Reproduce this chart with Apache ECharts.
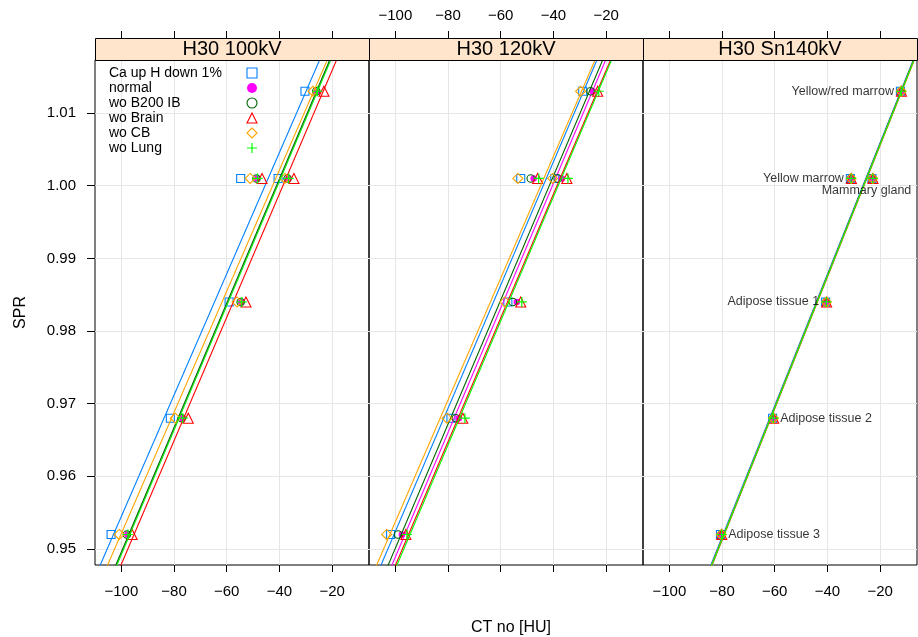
<!DOCTYPE html>
<html>
<head>
<meta charset="utf-8">
<script src="https://cdn.jsdelivr.net/npm/echarts@6/dist/echarts.min.js"></script>
<style>html,body{margin:0;padding:0;background:#fff}#c{width:918px;height:637px}</style>
</head>
<body>
<div id="c"></div>
<script>
// ---------------- data ----------------
const panelNames = ['H30 100kV', 'H30 120kV', 'H30 Sn140kV'];
const seriesNames = ['Ca up H down 1%', 'normal', 'wo B200 IB', 'wo Brain', 'wo CB', 'wo Lung'];
const tissues = ['Adipose tissue 3', 'Adipose tissue 2', 'Adipose tissue 1', 'Yellow marrow', 'Mammary gland', 'Yellow/red marrow'];
const spr = [0.952, 0.968, 0.984, 1.001, 1.001, 1.013];

// CT numbers [HU], one array per series, per panel (order of tissues above)
const ct100_caUp   = [-103.9, -81.4, -59.1, -54.7, -40.5, -30.3];
const ct100_normal = [-97.7, -76.9, -54.5, -48.5, -36.7, -25.8];
const ct100_b200   = [-97.9, -77.1, -54.7, -48.7, -36.9, -26.0];
const ct100_brain  = [-95.9, -74.6, -52.7, -46.6, -34.5, -23.1];
const ct100_cb     = [-100.8, -79.5, -56.1, -51.1, -37.9, -27.3];
const ct100_lung   = [-97.5, -76.7, -54.3, -48.3, -36.5, -25.6];

const ct120_caUp   = [-101.8, -78.9, -57.3, -52.4, -39.5, -28.9];
const ct120_normal = [-97.5, -75.9, -53.9, -47.5, -36.8, -25.1];
const ct120_b200   = [-99.0, -77.0, -55.4, -48.6, -38.4, -25.9];
const ct120_brain  = [-96.0, -74.4, -52.4, -46.0, -34.9, -23.2];
const ct120_cb     = [-103.3, -80.4, -58.4, -53.5, -40.3, -29.7];
const ct120_lung   = [-95.6, -73.6, -52.0, -45.6, -34.5, -22.8];

const ct140_caUp   = [-80.6, -60.8, -40.7, -31.3, -23.1, -12.3];
const ct140_normal = [-80.3, -60.6, -40.5, -31.1, -22.9, -12.1];
const ct140_b200   = [-80.3, -60.6, -40.5, -31.1, -22.9, -12.1];
const ct140_brain  = [-80.1, -60.4, -40.3, -30.9, -22.7, -11.9];
const ct140_cb     = [-80.3, -60.5, -40.4, -31.0, -22.8, -12.0];
const ct140_lung   = [-80.2, -60.5, -40.4, -31.0, -22.8, -12.0];

const xTicks = [-100, -80, -60, -40, -20];
const yTicks = [0.95, 0.96, 0.97, 0.98, 0.99, 1.00, 1.01];
const xRange = [-110, -6];
const yRange = [0.9478, 1.0173];
// label placement for tissue names in the Sn140kV panel
const labelPos = ['right', 'right', 'left', 'left', 'bottom', 'left'];

// ---------------- styling ----------------
const FONT = '"Liberation Sans", Arial, Helvetica, sans-serif';
const colors = ['#0080ff', '#ff00ff', '#006400', '#ff0000', '#ffa500', '#00ff00'];
const plusPath = 'path://M4.4,0h1.2v10h-1.2z M0,4.4h10v1.2h-10z';
const symbols = ['rect', 'circle', 'circle', 'triangle', 'diamond', plusPath];
const sizes = [8, 6.5, 7.5, 10, 10, 10];
const filled = [false, true, false, false, false, true];

const panelData = [
  [ct100_caUp, ct100_normal, ct100_b200, ct100_brain, ct100_cb, ct100_lung],
  [ct120_caUp, ct120_normal, ct120_b200, ct120_brain, ct120_cb, ct120_lung],
  [ct140_caUp, ct140_normal, ct140_b200, ct140_brain, ct140_cb, ct140_lung]
];

const PL = 95, PW = 274, PT = 60, PB = 565;
const minusFmt = v => (v < 0 ? '\u2212' + Math.abs(v) : String(v));

function fit(xs, ys) {
  const n = xs.length;
  const mx = xs.reduce((a, b) => a + b, 0) / n;
  const my = ys.reduce((a, b) => a + b, 0) / n;
  let sxy = 0, sxx = 0;
  for (let i = 0; i < n; i++) { sxy += (xs[i] - mx) * (ys[i] - my); sxx += (xs[i] - mx) ** 2; }
  const b = sxy / sxx;
  return { a: my - b * mx, b };
}

const grids = [], xAxes = [], yAxes = [], series = [], graphics = [];
for (let p = 0; p < 3; p++) {
  grids.push({ left: PL + PW * p, width: PW, top: PT, height: PB - PT, show: true,
               borderColor: '#000', borderWidth: 1, backgroundColor: 'transparent', outerBoundsMode: 'none' });
  const common = { type: 'value', gridIndex: p, min: xRange[0], max: xRange[1], axisLine: { show: false } };
  xAxes.push(Object.assign({}, common, {
    position: 'bottom',
    axisTick: { show: true, length: 7, lineStyle: { color: '#000' }, customValues: xTicks },
    axisLabel: { show: p !== 1, customValues: xTicks, formatter: minusFmt, margin: 19,
                 fontSize: 15, color: '#000', fontFamily: FONT },
    splitLine: { show: true, lineStyle: { color: '#e6e6e6', width: 1 } },
    name: p === 1 ? 'CT no [HU]' : '', nameLocation: 'middle', nameGap: 55,
    nameTextStyle: { fontSize: 16, color: '#000', fontFamily: FONT, padding: [0, 0, 0, 10] }
  }));
  xAxes.push(Object.assign({}, common, {
    position: 'top', offset: 22,
    axisTick: { show: true, length: 7, lineStyle: { color: '#000' }, customValues: xTicks },
    axisLabel: { show: p === 1, customValues: xTicks, formatter: minusFmt, margin: 15,
                 fontSize: 15, color: '#000', fontFamily: FONT },
    splitLine: { show: false }
  }));
  yAxes.push({
    type: 'value', gridIndex: p, min: yRange[0], max: yRange[1], position: 'left',
    axisLine: { show: false },
    axisTick: { show: p === 0, length: 8, lineStyle: { color: '#000' }, customValues: yTicks },
    axisLabel: { show: p === 0, customValues: yTicks, formatter: v => v.toFixed(2), margin: 19,
                 fontSize: 15, color: '#000', fontFamily: FONT },
    splitLine: { show: true, lineStyle: { color: '#e6e6e6', width: 1 } },
    name: p === 0 ? 'SPR' : '', nameLocation: 'middle', nameGap: 66,
    nameTextStyle: { fontSize: 16, color: '#000', fontFamily: FONT }
  });

  // strip
  graphics.push({
    type: 'rect', left: PL + PW * p, top: 38, z: 10,
    shape: { width: PW, height: 22 },
    style: { fill: '#ffe5cc', stroke: '#000', lineWidth: 1 }
  });
  graphics.push({
    type: 'text', x: PL + PW * p + PW / 2, y: 49.5, z: 11,
    style: { text: panelNames[p], fill: '#000', font: '20px ' + FONT,
             textAlign: 'center', textVerticalAlign: 'middle' }
  });

  for (let s = 0; s < 6; s++) {
    const xs = panelData[p][s];
    series.push({
      type: 'scatter', name: seriesNames[s], xAxisIndex: 2 * p, yAxisIndex: p,
      symbol: symbols[s], symbolSize: sizes[s],
      itemStyle: filled[s]
        ? { color: colors[s], borderWidth: 0, opacity: 1 }
        : { color: 'rgba(255,255,255,0)', borderColor: colors[s], borderWidth: 1.1, opacity: 1 },
      data: xs.map((x, i) => [x, spr[i]]),
      z: 3 + s, silent: true, animation: false
    });
    const f = fit(xs, spr);
    series.push({
      type: 'line', name: 'fit ' + seriesNames[s], xAxisIndex: 2 * p, yAxisIndex: p,
      data: xRange.map(x => [x, f.a + f.b * x]),
      symbol: 'none', clip: true, lineStyle: { color: colors[s], width: 1.1 },
      z: 3 + s, silent: true, animation: false
    });
  }
}
// tissue name labels in the Sn140kV panel
series.push({
  type: 'scatter', name: 'labels', xAxisIndex: 4, yAxisIndex: 2, symbolSize: 0,
  data: ct140_normal.map((x, i) => ({
    value: [x, spr[i]],
    label: { show: true, formatter: tissues[i], position: labelPos[i],
             distance: labelPos[i] === 'bottom' ? 6 : 7,
             offset: labelPos[i] === 'bottom' ? [-6, 0] : [0, 0],
             fontSize: 12.5, color: '#000', fontFamily: FONT }
  })),
  z: 20, silent: true, animation: false
});

const chart = echarts.init(document.getElementById('c'), null, { renderer: 'canvas' });
chart.setOption({
  animation: false,
  backgroundColor: '#fff',
  grid: grids, xAxis: xAxes, yAxis: yAxes, series: series, graphic: graphics,
  legend: {
    data: seriesNames, orient: 'vertical', left: 104, top: 61, align: 'right',
    itemWidth: 10, itemHeight: 10, itemGap: 1, selectedMode: false,
    itemStyle: { borderWidth: 1.1 },
    formatter: n => '{a|' + n + '}',
    textStyle: { fontSize: 14, color: '#000', fontFamily: FONT,
                 rich: { a: { width: 133, align: 'left', lineHeight: 14, fontSize: 14, color: '#000', fontFamily: FONT } } }
  }
});
</script>
</body>
</html>
